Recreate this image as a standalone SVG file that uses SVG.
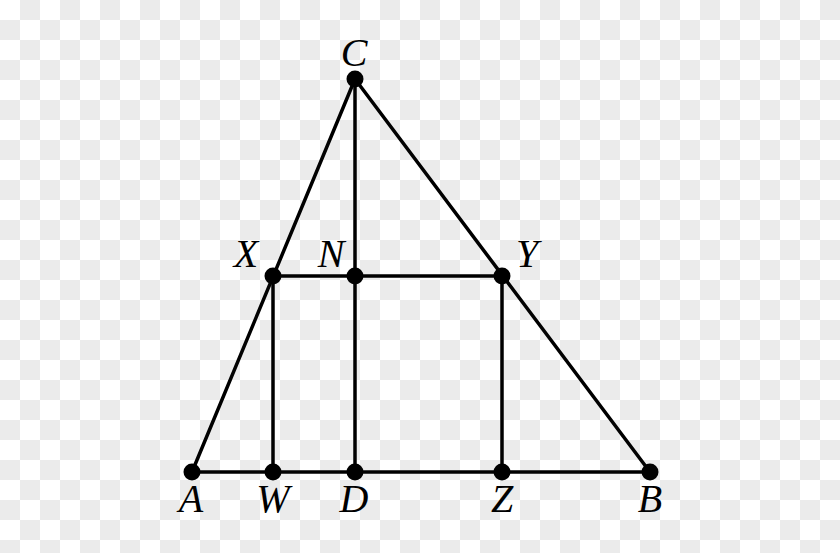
<svg xmlns="http://www.w3.org/2000/svg" width="840" height="553" viewBox="0 0 840 553">
<defs>
<g id="row">
<rect x="20" y="0" width="20" height="20" fill="#ebebeb"/><rect x="60" y="0" width="20" height="20" fill="#ebebeb"/><rect x="100" y="0" width="20" height="20" fill="#ebebeb"/><rect x="140" y="0" width="20" height="20" fill="#ebebeb"/><rect x="180" y="0" width="20" height="20" fill="#ebebeb"/><rect x="220" y="0" width="20" height="20" fill="#ebebeb"/><rect x="260" y="0" width="20" height="20" fill="#ebebeb"/><rect x="300" y="0" width="20" height="20" fill="#ebebeb"/><rect x="340" y="0" width="20" height="20" fill="#ebebeb"/><rect x="380" y="0" width="20" height="20" fill="#ebebeb"/><rect x="420" y="0" width="20" height="20" fill="#ebebeb"/><rect x="460" y="0" width="20" height="20" fill="#ebebeb"/><rect x="500" y="0" width="20" height="20" fill="#ebebeb"/><rect x="540" y="0" width="20" height="20" fill="#ebebeb"/><rect x="580" y="0" width="20" height="20" fill="#ebebeb"/><rect x="620" y="0" width="20" height="20" fill="#ebebeb"/><rect x="660" y="0" width="20" height="20" fill="#ebebeb"/><rect x="700" y="0" width="20" height="20" fill="#ebebeb"/><rect x="740" y="0" width="20" height="20" fill="#ebebeb"/><rect x="780" y="0" width="20" height="20" fill="#ebebeb"/><rect x="820" y="0" width="20" height="20" fill="#ebebeb"/>
</g>
</defs>
<style>
.ln{stroke:#000;stroke-width:3.5;fill:none;stroke-linecap:round}
.pt{fill:#000}
.lb{font-family:"Liberation Serif","DejaVu Serif",serif;font-style:italic;font-size:40px;fill:#000;text-anchor:middle}
</style>
<rect width="840" height="553" fill="#ffffff"/>
<g id="background">
<use href="#row" y="0"/><use href="#row" y="40"/><use href="#row" y="80"/><use href="#row" y="120"/><use href="#row" y="160"/><use href="#row" y="200"/><use href="#row" y="240"/><use href="#row" y="280"/><use href="#row" y="320"/><use href="#row" y="360"/><use href="#row" y="400"/><use href="#row" y="440"/><use href="#row" y="480"/><use href="#row" y="520"/>
<use href="#row" x="-20" y="20"/><use href="#row" x="-20" y="60"/><use href="#row" x="-20" y="100"/><use href="#row" x="-20" y="140"/><use href="#row" x="-20" y="180"/><use href="#row" x="-20" y="220"/><use href="#row" x="-20" y="260"/><use href="#row" x="-20" y="300"/><use href="#row" x="-20" y="340"/><use href="#row" x="-20" y="380"/><use href="#row" x="-20" y="420"/><use href="#row" x="-20" y="460"/><use href="#row" x="-20" y="500"/><use href="#row" x="-20" y="540"/>
</g>
<g id="connectors">
<line class="ln" x1="192" y1="472" x2="355" y2="79"/>
<line class="ln" x1="355" y1="79" x2="650" y2="472"/>
<line class="ln" x1="192" y1="472" x2="650" y2="472"/>
<line class="ln" x1="355" y1="79" x2="355" y2="472"/>
<line class="ln" x1="273" y1="276" x2="502" y2="276"/>
<line class="ln" x1="273" y1="276" x2="273" y2="472"/>
<line class="ln" x1="502" y1="276" x2="502" y2="472"/>
</g>
<g id="C"><circle class="pt" cx="355" cy="79" r="8.5"/><text class="lb" x="354" y="66">C</text></g>
<g id="X"><circle class="pt" cx="273" cy="276" r="8.5"/><text class="lb" x="246" y="267">X</text></g>
<g id="N"><circle class="pt" cx="355" cy="276" r="8.5"/><text class="lb" x="331" y="267">N</text></g>
<g id="Y"><circle class="pt" cx="502" cy="276" r="8.5"/><text class="lb" x="527" y="267">Y</text></g>
<g id="A"><circle class="pt" cx="192" cy="472" r="8.5"/><text class="lb" x="191" y="512">A</text></g>
<g id="W"><circle class="pt" cx="273" cy="472" r="8.5"/><text class="lb" x="273" y="512">W</text></g>
<g id="D"><circle class="pt" cx="355" cy="472" r="8.5"/><text class="lb" x="354" y="512">D</text></g>
<g id="Z"><circle class="pt" cx="502" cy="472" r="8.5"/><text class="lb" x="502" y="512">Z</text></g>
<g id="B"><circle class="pt" cx="650" cy="472" r="8.5"/><text class="lb" x="650" y="512">B</text></g>
</svg>
